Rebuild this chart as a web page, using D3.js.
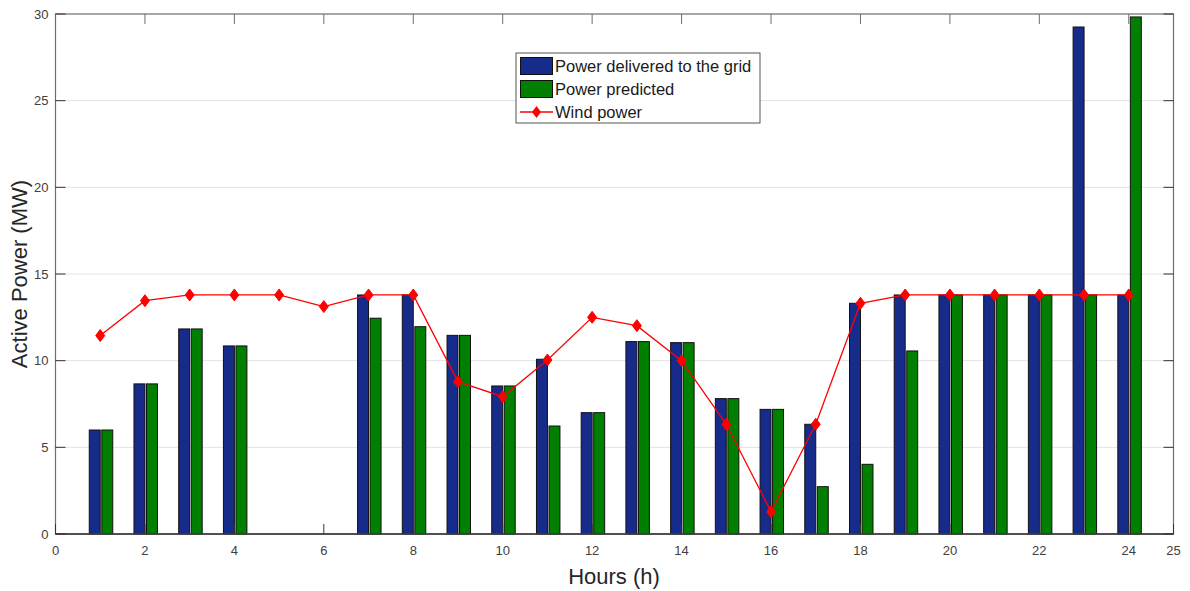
<!DOCTYPE html>
<html><head><meta charset="utf-8">
<script src="https://cdn.jsdelivr.net/npm/d3@7"></script>
<style>body{margin:0;background:#fff}svg{display:block}text{font-family:Arial,"Liberation Sans",Helvetica,sans-serif}</style>
</head><body><svg id="c" width="1190" height="591"></svg>
<script>
const hours = [1,2,3,4,5,6,7,8,9,10,11,12,13,14,15,16,17,18,19,20,21,22,23,24];
const delivered = [6.0,8.66,11.83,10.85,0,0,13.79,13.79,11.46,8.54,10.08,7.0,11.1,11.04,7.81,7.19,6.33,13.31,13.79,13.79,13.79,13.79,29.25,13.79];
const predicted = [6.0,8.66,11.83,10.85,0,0,12.45,11.96,11.46,8.54,6.23,7.0,11.1,11.04,7.81,7.19,2.73,4.02,10.56,13.79,13.79,13.79,13.79,29.83];
const wind = [11.45,13.46,13.79,13.79,13.79,13.12,13.79,13.79,8.79,7.92,10.04,12.5,12.02,10.0,6.33,1.29,6.33,13.31,13.79,13.79,13.79,13.79,13.79,13.79];
const xTicks = [0,2,4,6,8,10,12,14,16,18,20,22,24,25];
const yTicks = [0,5,10,15,20,25,30];
const seriesNames = ["Power delivered to the grid","Power predicted","Wind power"];

const svg = d3.select("#c");
const L=55.5, R=1173.5, T=14, B=534;
const x = d3.scaleLinear().domain([0,25]).range([L,R]);
const y = d3.scaleLinear().domain([0,30]).range([B,T]);
const cBlue="#172b8a", cGreen="#007f00", cRed="#ff0000";

// grid
svg.append("g").selectAll("line").data(yTicks.filter(d=>d>0&&d<30)).join("line")
  .attr("x1",L).attr("x2",R).attr("y1",d=>y(d)).attr("y2",d=>y(d))
  .attr("stroke","#e3e3e3").attr("stroke-width",1);

const bw = 0.245;
svg.append("g").selectAll("rect").data(hours.map((h,i)=>({h,v:delivered[i]}))).join("rect")
  .attr("x",d=>x(d.h-bw)).attr("width",x(bw)-x(0))
  .attr("y",d=>y(d.v)).attr("height",d=>y(0)-y(d.v))
  .attr("fill",cBlue).attr("stroke","#111").attr("stroke-width",1);
svg.append("g").selectAll("rect").data(hours.map((h,i)=>({h,v:predicted[i]}))).join("rect")
  .attr("x",d=>x(d.h+0.035)).attr("width",x(bw)-x(0))
  .attr("y",d=>y(d.v)).attr("height",d=>y(0)-y(d.v))
  .attr("fill",cGreen).attr("stroke","#111").attr("stroke-width",1);

// wind line
const line = d3.line().x((d,i)=>x(hours[i])).y(d=>y(d));
svg.append("path").datum(wind).attr("d",line).attr("fill","none").attr("stroke",cRed).attr("stroke-width",1.3);
const diamond = "M0,-6L4.5,0L0,6L-4.5,0Z";
svg.append("g").selectAll("path").data(wind).join("path")
  .attr("transform",(d,i)=>`translate(${x(hours[i])},${y(d)})`)
  .attr("d",diamond).attr("fill",cRed).attr("stroke",cRed).attr("stroke-width",1);

// axes box
const axC="#6e6e6e";
svg.append("rect").attr("x",L).attr("y",T).attr("width",R-L).attr("height",B-T)
  .attr("fill","none").attr("stroke",axC).attr("stroke-width",1.2);
svg.append("line").attr("x1",L).attr("x2",R).attr("y1",B).attr("y2",B).attr("stroke","#333").attr("stroke-width",1.3);

// ticks (inward)
const tl=10;
const gx = svg.append("g");
xTicks.forEach(t=>{
  gx.append("line").attr("x1",x(t)).attr("x2",x(t)).attr("y1",B).attr("y2",B-tl).attr("stroke","#333");
  gx.append("line").attr("x1",x(t)).attr("x2",x(t)).attr("y1",T).attr("y2",T+tl).attr("stroke",axC);
  gx.append("text").attr("x",x(t)).attr("y",B+21).attr("text-anchor","middle")
    .attr("font-size",13).attr("fill","#404040").text(t);
});
const gy = svg.append("g");
yTicks.forEach(t=>{
  gy.append("line").attr("x1",L).attr("x2",L+tl).attr("y1",y(t)).attr("y2",y(t)).attr("stroke","#333");
  gy.append("line").attr("x1",R).attr("x2",R-tl).attr("y1",y(t)).attr("y2",y(t)).attr("stroke","#333");
  gy.append("text").attr("x",L-7).attr("y",y(t)+4.5).attr("text-anchor","end")
    .attr("font-size",13).attr("fill","#404040").text(t);
});

// axis labels
svg.append("text").attr("x",614).attr("y",584).attr("text-anchor","middle")
  .attr("font-size",22).attr("fill","#262626").text("Hours (h)");
svg.append("text").attr("transform",`translate(27,${(T+B)/2}) rotate(-90)`).attr("text-anchor","middle")
  .attr("font-size",22).attr("fill","#262626").text("Active Power (MW)");

// legend
const lg = svg.append("g").attr("transform","translate(516,53)");
lg.append("rect").attr("width",244).attr("height",70).attr("fill","#fff").attr("stroke","#555").attr("stroke-width",1);
lg.append("rect").attr("x",4.5).attr("y",4.5).attr("width",32).attr("height",17).attr("fill",cBlue).attr("stroke","#111");
lg.append("rect").attr("x",4.5).attr("y",27.5).attr("width",32).attr("height",17).attr("fill",cGreen).attr("stroke","#111");
lg.append("line").attr("x1",4).attr("x2",37).attr("y1",59).attr("y2",59).attr("stroke",cRed).attr("stroke-width",1.3);
lg.append("path").attr("transform","translate(20.5,59)").attr("d",diamond).attr("fill",cRed);
[seriesNames[0],seriesNames[1],seriesNames[2]].forEach((s,i)=>{
  lg.append("text").attr("x",39).attr("y",19+i*23).attr("font-size",16.5).attr("fill","#1a1a1a").text(s);
});
</script></body></html>
